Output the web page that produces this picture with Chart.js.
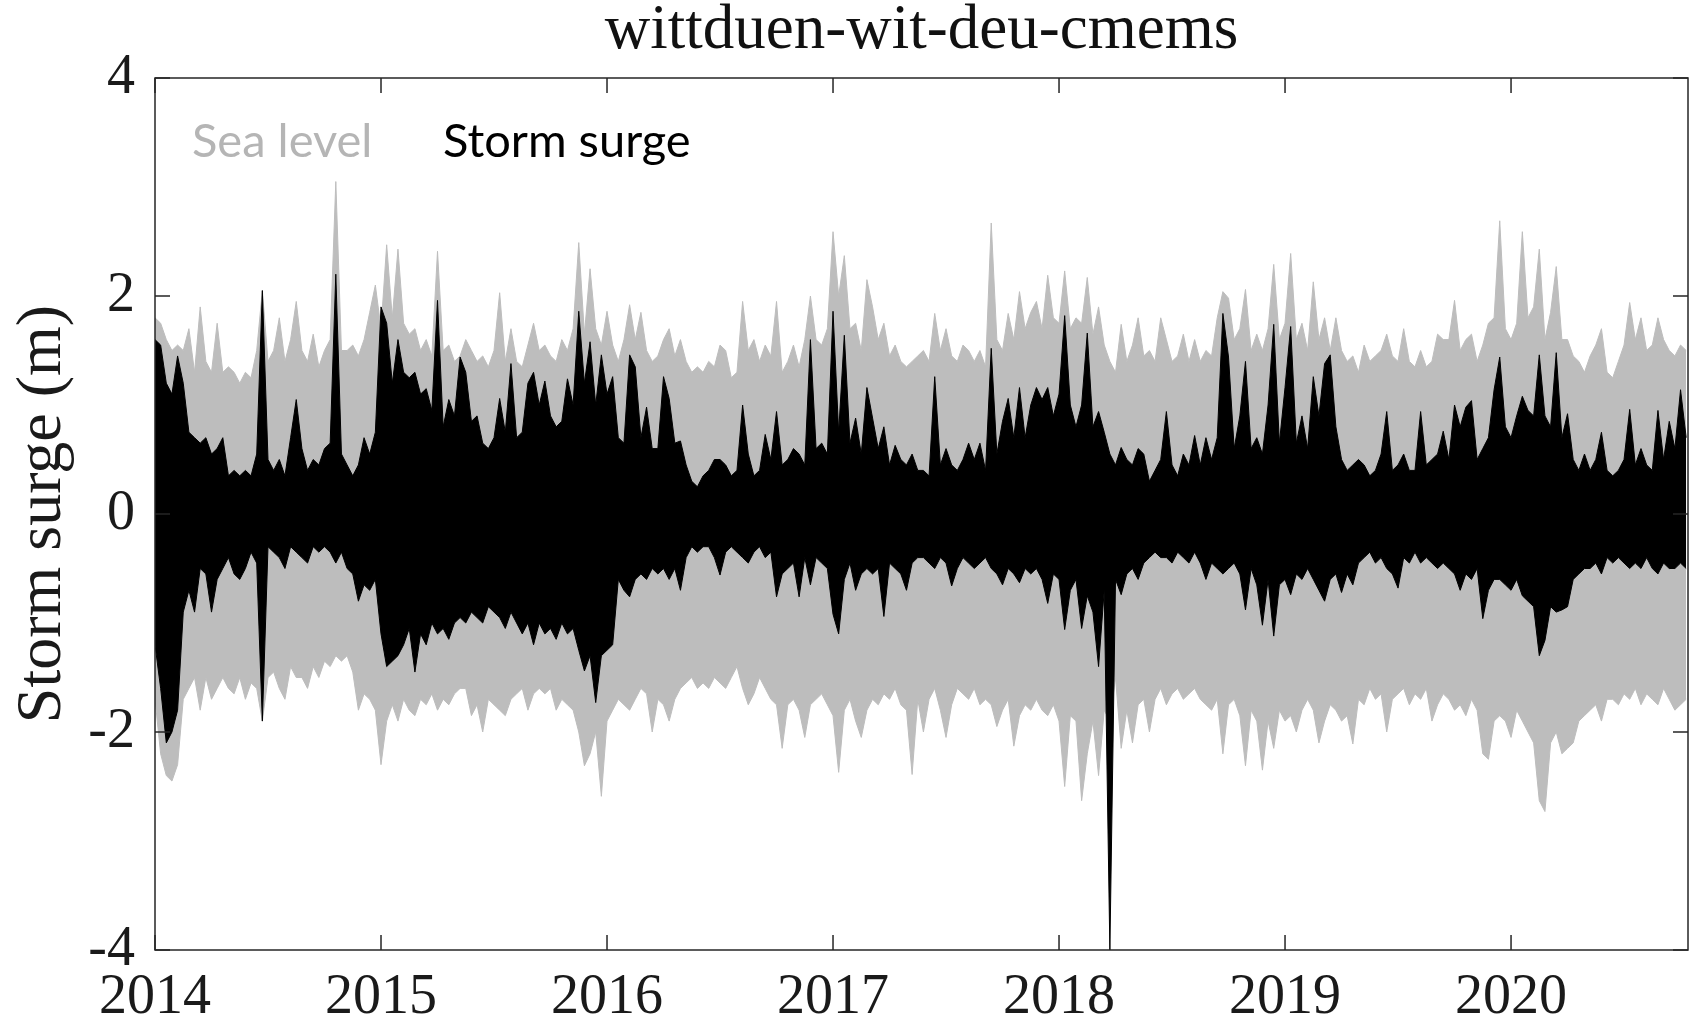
<!DOCTYPE html>
<html>
<head>
<meta charset="utf-8">
<title>wittduen-wit-deu-cmems</title>
<script src="https://cdn.jsdelivr.net/npm/chart.js@4.4.1/dist/chart.umd.min.js"></script>
<style>
  html, body { margin: 0; padding: 0; background: #fff; }
  canvas { display: block; }
</style>
</head>
<body>
<canvas id="surgeChart" width="1693" height="1024"></canvas>
<script>
// one sample every 1/40 year, values in metres
const startYear = 2014;
const samplesPerYear = 40;
const yearTicks = [2014, 2015, 2016, 2017, 2018, 2019, 2020];
const levelTicks = [-4, -2, 0, 2, 4];
const seriesNames = ['Sea level', 'Storm surge'];

// sea level envelope (upper / lower)
const seaHigh = [
  1.8,1.75,1.6,1.5,1.55,1.5,1.7,1.3,1.9,1.4, 1.3,1.75,1.3,1.35,1.3,1.2,1.3,1.25,1.5,2.05, 1.4,1.5,1.8,1.4,1.6,1.95,1.5,1.4,1.65,1.35, 1.5,1.6,3.05,1.5,
  1.5,1.55,1.45,1.6,1.85,2.1,1.7,2.47,1.8,2.43, 1.75,1.65,1.7,1.5,1.6,1.45,2.41,1.5,1.55,1.4, 1.45,1.6,1.5,1.4,1.45,1.35,1.5,2.03,1.4,1.7, 1.4,1.35,1.55,1.75,
  1.5,1.55,1.45,1.4,1.6,1.5,1.7,2.49,1.65,2.25, 1.7,1.55,1.86,1.55,1.4,1.6,1.92,1.6,1.85,1.5, 1.4,1.45,1.6,1.7,1.45,1.6,1.4,1.3,1.35,1.3, 1.4,1.35,1.55,1.5,
  1.25,1.3,1.95,1.5,1.6,1.4,1.55,1.45,1.95,1.3, 1.4,1.55,1.35,1.6,2.0,1.6,1.55,1.7,2.59,2.0, 2.37,1.7,1.75,1.5,2.15,1.9,1.6,1.75,1.45,1.55, 1.4,1.35,1.4,1.45,
  1.5,1.4,1.84,1.5,1.7,1.45,1.4,1.55,1.5,1.4, 1.5,1.35,2.67,1.6,1.5,1.84,1.6,2.04,1.7,1.85, 1.95,1.7,2.19,1.8,1.75,2.23,1.7,1.8,1.75,2.17, 1.65,1.9,1.55,1.4,
  1.3,1.74,1.4,1.55,1.8,1.45,1.5,1.4,1.8,1.6, 1.4,1.45,1.65,1.4,1.6,1.4,1.5,1.45,1.8,2.04, 1.98,1.6,1.7,2.06,1.5,1.65,1.5,1.7,2.29,1.6, 1.75,2.39,1.6,1.75,
  1.5,2.13,1.6,1.8,1.5,1.8,1.5,1.4,1.45,1.3, 1.55,1.4,1.45,1.5,1.65,1.45,1.4,1.7,1.4,1.35, 1.5,1.35,1.4,1.65,1.6,1.6,1.96,1.5,1.6,1.65, 1.4,1.55,1.75,1.8,
  2.69,1.7,1.6,1.75,2.59,1.8,1.9,2.43,1.6,1.85, 2.27,1.6,1.6,1.45,1.4,1.3,1.45,1.55,1.7,1.3, 1.25,1.4,1.55,1.94,1.6,1.8,1.5,1.55,1.8,1.6, 1.5,1.45,1.55,1.5
];
const seaLow = [
  -1.7,-2.2,-2.4,-2.45,-2.3,-1.7,-1.6,-1.5,-1.8,-1.5, -1.7,-1.6,-1.5,-1.6,-1.65,-1.5,-1.7,-1.55,-1.6,-1.9, -1.5,-1.45,-1.6,-1.7,-1.4,-1.5,-1.5,-1.6,-1.4,-1.5, -1.35,-1.4,-1.3,-1.35,
  -1.3,-1.45,-1.8,-1.65,-1.7,-1.8,-2.3,-1.9,-1.75,-1.9, -1.7,-1.8,-1.85,-1.7,-1.75,-1.65,-1.8,-1.7,-1.75,-1.65, -1.6,-1.6,-1.85,-1.75,-2.0,-1.7,-1.75,-1.8,-1.85,-1.7, -1.65,-1.6,-1.8,-1.65,
  -1.6,-1.65,-1.6,-1.8,-1.7,-1.75,-1.8,-2.0,-2.31,-2.2, -2.0,-2.59,-1.9,-1.8,-1.7,-1.75,-1.8,-1.7,-1.6,-1.65, -2.0,-1.7,-1.75,-1.9,-1.7,-1.6,-1.55,-1.5,-1.6,-1.55, -1.6,-1.5,-1.55,-1.6,
  -1.5,-1.4,-1.6,-1.75,-1.65,-1.5,-1.6,-1.7,-1.75,-2.15, -1.75,-1.7,-1.8,-2.05,-1.75,-1.7,-1.65,-1.75,-1.85,-2.37, -1.8,-1.7,-1.9,-2.05,-1.8,-1.7,-1.75,-1.65,-1.7,-1.6, -1.75,-1.8,-2.39,-1.7,
  -2.0,-1.7,-1.6,-1.8,-2.05,-1.75,-1.6,-1.65,-1.7,-1.6, -1.75,-1.7,-1.75,-1.95,-1.8,-1.7,-2.13,-1.85,-1.75,-1.8, -1.7,-1.8,-1.85,-1.75,-1.9,-2.5,-1.85,-1.9,-2.63,-2.2, -1.9,-2.4,-1.8,-1.9,
  -1.5,-2.15,-1.8,-2.1,-1.75,-1.7,-2.0,-1.7,-1.6,-1.75, -1.65,-1.6,-1.7,-1.65,-1.6,-1.7,-1.75,-1.8,-1.7,-2.2, -1.75,-1.7,-1.85,-2.31,-1.8,-1.9,-2.35,-1.9,-2.15,-1.8, -1.9,-1.85,-2.0,-1.8,
  -1.7,-1.8,-2.1,-1.9,-1.75,-1.8,-1.9,-1.85,-2.11,-1.7, -1.75,-1.6,-1.7,-1.65,-2.0,-1.7,-1.65,-1.6,-1.75,-1.65, -1.7,-1.6,-1.9,-1.75,-1.65,-1.7,-1.8,-1.75,-1.85,-1.7, -1.8,-2.2,-2.25,-1.9,
  -1.85,-1.9,-2.05,-1.8,-1.9,-2.0,-2.1,-2.63,-2.73,-2.1, -2.0,-2.2,-2.15,-2.1,-1.9,-1.85,-1.8,-1.75,-1.9,-1.7, -1.7,-1.75,-1.65,-1.7,-1.6,-1.75,-1.65,-1.7,-1.75,-1.6, -1.7,-1.8,-1.75,-1.7
];

// storm surge envelope (upper / lower)
const surgeHigh = [
  1.6,1.55,1.2,1.1,1.45,1.2,0.75,0.7,0.65,0.7, 0.55,0.6,0.7,0.35,0.4,0.35,0.4,0.35,0.55,2.05, 0.5,0.4,0.5,0.35,0.7,1.05,0.6,0.4,0.5,0.45, 0.6,0.65,2.2,0.55,
  0.45,0.35,0.45,0.7,0.55,0.75,1.9,1.75,1.2,1.6, 1.3,1.25,1.3,1.1,1.15,0.95,1.96,0.8,1.05,0.9, 1.44,1.3,0.85,0.9,0.65,0.6,0.7,1.06,0.75,1.38, 0.7,0.75,1.2,1.3,
  1.0,1.22,0.9,0.8,0.85,1.24,1.0,1.86,1.2,1.58, 1.0,1.46,1.1,1.26,0.7,0.65,1.46,1.35,0.7,0.98, 0.6,0.6,1.26,1.06,0.65,0.67,0.45,0.3,0.25,0.35, 0.4,0.5,0.5,0.45,
  0.35,0.4,1.0,0.55,0.35,0.4,0.73,0.5,0.94,0.45, 0.5,0.6,0.55,0.45,1.6,0.6,0.65,0.55,1.86,0.75, 1.64,0.65,0.88,0.55,1.16,0.88,0.6,0.8,0.45,0.63, 0.5,0.45,0.55,0.4,
  0.4,0.35,1.26,0.45,0.6,0.45,0.4,0.5,0.65,0.5, 0.65,0.4,1.52,0.55,0.85,1.06,0.7,1.16,0.7,1.0, 1.16,1.05,1.16,0.9,1.1,1.82,1.0,0.8,1.0,1.66, 0.8,0.94,0.75,0.55,
  0.45,0.61,0.5,0.45,0.6,0.55,0.3,0.4,0.5,0.94, 0.45,0.35,0.55,0.45,0.72,0.45,0.7,0.5,0.7,1.84, 1.44,0.6,0.9,1.4,0.6,0.7,0.55,1.0,1.74,0.65, 1.16,1.72,0.65,0.9,
  0.6,1.26,0.9,1.38,1.46,0.8,0.5,0.4,0.45,0.5, 0.45,0.35,0.4,0.55,0.94,0.4,0.45,0.55,0.4,0.4, 0.94,0.45,0.5,0.55,0.76,0.5,1.0,0.8,0.98,1.04, 0.5,0.6,0.7,1.14,
  1.44,0.8,0.7,0.9,1.08,0.95,0.9,1.46,0.9,0.8, 1.48,0.7,0.92,0.5,0.4,0.55,0.4,0.5,0.75,0.4, 0.35,0.4,0.5,0.96,0.45,0.6,0.45,0.4,0.95,0.5, 0.85,0.6,1.14,0.7
];
const surgeLow = [
  -1.2,-1.6,-2.1,-2.0,-1.8,-0.9,-0.7,-0.9,-0.5,-0.55, -0.9,-0.6,-0.5,-0.4,-0.55,-0.6,-0.5,-0.35,-0.45,-1.9, -0.3,-0.35,-0.4,-0.5,-0.3,-0.35,-0.4,-0.45,-0.3,-0.35, -0.3,-0.35,-0.45,-0.35,
  -0.5,-0.55,-0.8,-0.65,-0.7,-0.6,-1.1,-1.4,-1.35,-1.3, -1.2,-1.05,-1.45,-1.1,-1.2,-1.0,-1.1,-1.05,-1.15,-1.0, -0.95,-1.0,-0.9,-0.95,-1.0,-0.85,-0.9,-0.95,-1.05,-0.9, -1.0,-1.1,-1.0,-1.2,
  -1.0,-1.1,-1.05,-1.15,-1.0,-1.1,-1.05,-1.25,-1.44,-1.3, -1.73,-1.3,-1.25,-1.2,-0.6,-0.7,-0.76,-0.6,-0.55,-0.6, -0.5,-0.55,-0.5,-0.6,-0.5,-0.7,-0.4,-0.3,-0.35,-0.3, -0.3,-0.4,-0.56,-0.35,
  -0.3,-0.35,-0.4,-0.45,-0.35,-0.3,-0.4,-0.35,-0.76,-0.55, -0.5,-0.45,-0.76,-0.4,-0.65,-0.4,-0.45,-0.5,-0.92,-1.1, -0.6,-0.45,-0.7,-0.55,-0.5,-0.55,-0.5,-0.94,-0.45,-0.5, -0.55,-0.7,-0.45,-0.4,
  -0.4,-0.45,-0.5,-0.4,-0.45,-0.66,-0.5,-0.4,-0.45,-0.5, -0.45,-0.4,-0.5,-0.55,-0.65,-0.5,-0.55,-0.63,-0.5,-0.55, -0.5,-0.6,-0.82,-0.55,-0.6,-1.06,-0.7,-0.6,-1.05,-0.75, -0.9,-1.4,-0.7,-4.0,
  -0.6,-0.74,-0.55,-0.5,-0.6,-0.45,-0.4,-0.35,-0.4,-0.4, -0.45,-0.35,-0.4,-0.45,-0.35,-0.45,-0.6,-0.45,-0.5,-0.55, -0.5,-0.45,-0.55,-0.88,-0.5,-0.65,-1.02,-0.6,-1.12,-0.65, -0.6,-0.74,-0.55,-0.6,
  -0.5,-0.6,-0.7,-0.8,-0.6,-0.55,-0.72,-0.55,-0.65,-0.45, -0.4,-0.35,-0.45,-0.4,-0.5,-0.55,-0.68,-0.4,-0.45,-0.35, -0.45,-0.4,-0.45,-0.5,-0.45,-0.5,-0.55,-0.7,-0.55,-0.6, -0.5,-0.96,-0.7,-0.6,
  -0.6,-0.65,-0.7,-0.6,-0.75,-0.8,-0.85,-1.3,-1.16,-0.85, -0.9,-0.88,-0.85,-0.6,-0.55,-0.5,-0.5,-0.45,-0.55,-0.4, -0.45,-0.4,-0.45,-0.5,-0.45,-0.5,-0.4,-0.5,-0.55,-0.45, -0.5,-0.5,-0.45,-0.5
];

const grey = '#bdbdbd';
const axisColor = '#262626';
const serif = 'Liberation Serif';

const toPoints = vals => vals.map((v, i) => ({ x: startYear + i / samplesPerYear, y: v }));

// matlab style box with inward ticks, plus the in-plot legend text
const boxPlugin = {
  id: 'box',
  afterDraw(chart) {
    const { ctx, chartArea: a, scales: { x, y } } = chart;
    const len = 15;
    ctx.save();
    ctx.strokeStyle = axisColor;
    ctx.lineWidth = 1.5;
    ctx.strokeRect(a.left, a.top, a.right - a.left, a.bottom - a.top);
    ctx.beginPath();
    yearTicks.forEach(v => {
      const px = x.getPixelForValue(v);
      ctx.moveTo(px, a.bottom); ctx.lineTo(px, a.bottom - len);
      ctx.moveTo(px, a.top); ctx.lineTo(px, a.top + len);
    });
    levelTicks.forEach(v => {
      const py = y.getPixelForValue(v);
      ctx.moveTo(a.left, py); ctx.lineTo(a.left + len, py);
      ctx.moveTo(a.right, py); ctx.lineTo(a.right - len, py);
    });
    ctx.stroke();

    ctx.font = '47px Lato';
    ctx.textBaseline = 'alphabetic';
    ctx.fillStyle = '#b5b5b5';
    ctx.fillText(seriesNames[0], a.left + 37, a.top + 79);
    ctx.fillStyle = '#000';
    ctx.fillText(seriesNames[1], a.left + 288, a.top + 79);
    ctx.restore();
  }
};

new Chart(document.getElementById('surgeChart'), {
  type: 'line',
  data: {
    datasets: [
      { label: seriesNames[1], data: toPoints(surgeHigh), borderColor: '#000', backgroundColor: '#000', fill: '+1', order: 0 },
      { label: seriesNames[1] + ' low', data: toPoints(surgeLow), borderColor: '#000', fill: false, order: 1 },
      { label: seriesNames[0], data: toPoints(seaHigh), borderColor: grey, backgroundColor: grey, fill: '+1', order: 2 },
      { label: seriesNames[0] + ' low', data: toPoints(seaLow), borderColor: grey, fill: false, order: 3 }
    ]
  },
  options: {
    responsive: false,
    animation: false,
    layout: { padding: { top: 0, right: 5, bottom: 0, left: 0 } },
    elements: {
      point: { radius: 0 },
      line: { borderWidth: 1, tension: 0 }
    },
    plugins: {
      legend: { display: false },
      tooltip: { enabled: false },
      title: {
        display: true,
        text: 'wittduen-wit-deu-cmems',
        fullSize: false,
        color: '#111',
        font: { family: serif, size: 63, weight: 'normal', lineHeight: 1 },
        padding: { top: 0, bottom: 15 }
      }
    },
    scales: {
      x: {
        type: 'linear',
        min: 2014,
        max: 2020.783,
        afterBuildTicks: s => { s.ticks = yearTicks.map(v => ({ value: v })); },
        afterFit: s => { s.height = 74; },
        grid: { display: false, drawTicks: false },
        border: { display: false },
        ticks: {
          callback: v => String(v),
          color: '#1a1a1a',
          font: { family: serif, size: 56 },
          padding: 15,
          maxRotation: 0,
          autoSkip: false
        }
      },
      y: {
        min: -4,
        max: 4,
        afterBuildTicks: s => { s.ticks = levelTicks.map(v => ({ value: v })); },
        afterFit: s => { s.width = 155; },
        grid: { display: false, drawTicks: false },
        border: { display: false },
        title: {
          display: true,
          text: 'Storm surge (m)',
          color: '#1a1a1a',
          font: { family: serif, size: 64 },
          padding: { top: 5, bottom: 0 }
        },
        ticks: {
          color: '#1a1a1a',
          font: { family: serif, size: 56 },
          padding: 20
        }
      }
    }
  },
  plugins: [boxPlugin]
});
</script>
</body>
</html>
